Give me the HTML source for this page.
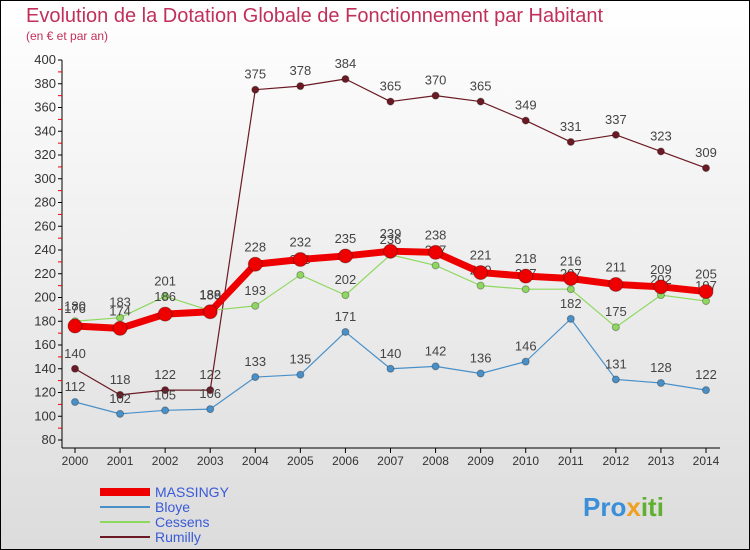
<!DOCTYPE html>
<html><head><meta charset="utf-8"><style>
body{margin:0;width:750px;height:550px;overflow:hidden;font-family:"Liberation Sans",sans-serif}
svg{display:block}
</style></head><body>
<svg id="c" width="750" height="550" xmlns="http://www.w3.org/2000/svg">
<defs><linearGradient id="bg" x1="0" y1="0" x2="0" y2="1"><stop offset="0" stop-color="#ffffff"/><stop offset="1" stop-color="#dcdcdc"/></linearGradient></defs>
<rect x="0.5" y="0.5" width="749" height="549" fill="url(#bg)" stroke="#000"/>
<text x="26" y="22" font-size="20" fill="#c0305a">Evolution de la Dotation Globale de Fonctionnement par Habitant</text>
<text x="26" y="40" font-size="12" fill="#c0305a">(en € et par an)</text>
<g id="axes"></g><g id="series"></g><g id="legend"></g>
<text x="583" y="516" font-size="26" font-weight="bold" fill="#3a8fd8">Pro<tspan fill="#f0a020">x</tspan><tspan fill="#60b030">iti</tspan></text>
</svg>
<script>
const years=["2000","2001","2002","2003","2004","2005","2006","2007","2008","2009","2010","2011","2012","2013","2014"];
const yTicks=[80,100,120,140,160,180,200,220,240,260,280,300,320,340,360,380,400];
const massingy=[176,174,186,188,228,232,235,239,238,221,218,216,211,209,205];
const bloye=[112,102,105,106,133,135,171,140,142,136,146,182,131,128,122];
const cessens=[180,183,201,189,193,219,202,236,227,210,207,207,175,202,197];
const rumilly=[140,118,122,122,375,378,384,365,370,365,349,331,337,323,309];
const NS="http://www.w3.org/2000/svg";
const X=i=>75+i*(706-75)/14;
const Y=v=>60+(400-v)*380/320;
function mk(t,a,p){const e=document.createElementNS(NS,t);for(const k in a)e.setAttribute(k,a[k]);p.appendChild(e);return e;}
const ax=document.getElementById('axes');
const yl=mk('line',{x1:62,y1:60,x2:62,y2:448,stroke:'#000'},ax);


yTicks.forEach(v=>{
  mk('line',{x1:58,y1:Y(v),x2:62,y2:Y(v),stroke:'#000'},ax);
  mk('line',{x1:58,y1:Y(v)+11.9,x2:62,y2:Y(v)+11.9,stroke:v>80?'#e00':'none'},ax);
  const t=mk('text',{x:56,y:Y(v)+4,'font-size':13,fill:'#333','text-anchor':'end'},ax);t.textContent=v;
  
  
});
const xl=mk('line',{x1:62,y1:448,x2:720,y2:448,stroke:'#000'},ax);


years.forEach((y,i)=>{
  mk('line',{x1:X(i),y1:448,x2:X(i),y2:453,stroke:'#000'},ax);
  const t=mk('text',{x:X(i),y:465,'font-size':12,fill:'#333','text-anchor':'middle'},ax);t.textContent=y;
  
  
});
const sg=document.getElementById('series');
function draw(name,data,color,w,r,off){
  const g=mk('g',{},sg);
  
  
  const pl=mk('polyline',{points:data.map((v,i)=>X(i)+','+Y(v)).join(' '),fill:'none',stroke:color,'stroke-width':w,'stroke-linejoin':'round'},g);
  
  
  data.forEach((v,i)=>{
    const c=mk('circle',{cx:X(i),cy:Y(v),r:r,fill:color,stroke:'rgba(0,0,0,0.3)'},g);
    
    
    const t=mk('text',{x:X(i),y:Y(v)-off,'font-size':13,fill:'#444','text-anchor':'middle'},g);t.textContent=v;
    
    
  });
}
draw('rumilly',rumilly,'#6b1a24',1.2,3.5,11);
draw('bloye',bloye,'#4a90c8',1.2,3.5,11);
draw('cessens',cessens,'#8fd860',1.2,3.5,11);
draw('massingy',massingy,'#ee0000',7,7,13);
const lg=document.getElementById('legend');
const items=[['MASSINGY','#ee0000',8],['Bloye','#4a90c8',2],['Cessens','#8fd860',2],['Rumilly','#6b1a24',2]];
items.forEach((it,k)=>{
  const y=492+k*15;
  const l=mk('line',{x1:100,y1:y,x2:150,y2:y,stroke:it[1],'stroke-width':it[2]},lg);
  
  
  const t=mk('text',{x:155,y:y+5,'font-size':14,fill:'#3a5ad8'},lg);t.textContent=it[0];
  
  
});
</script>
</body></html>
